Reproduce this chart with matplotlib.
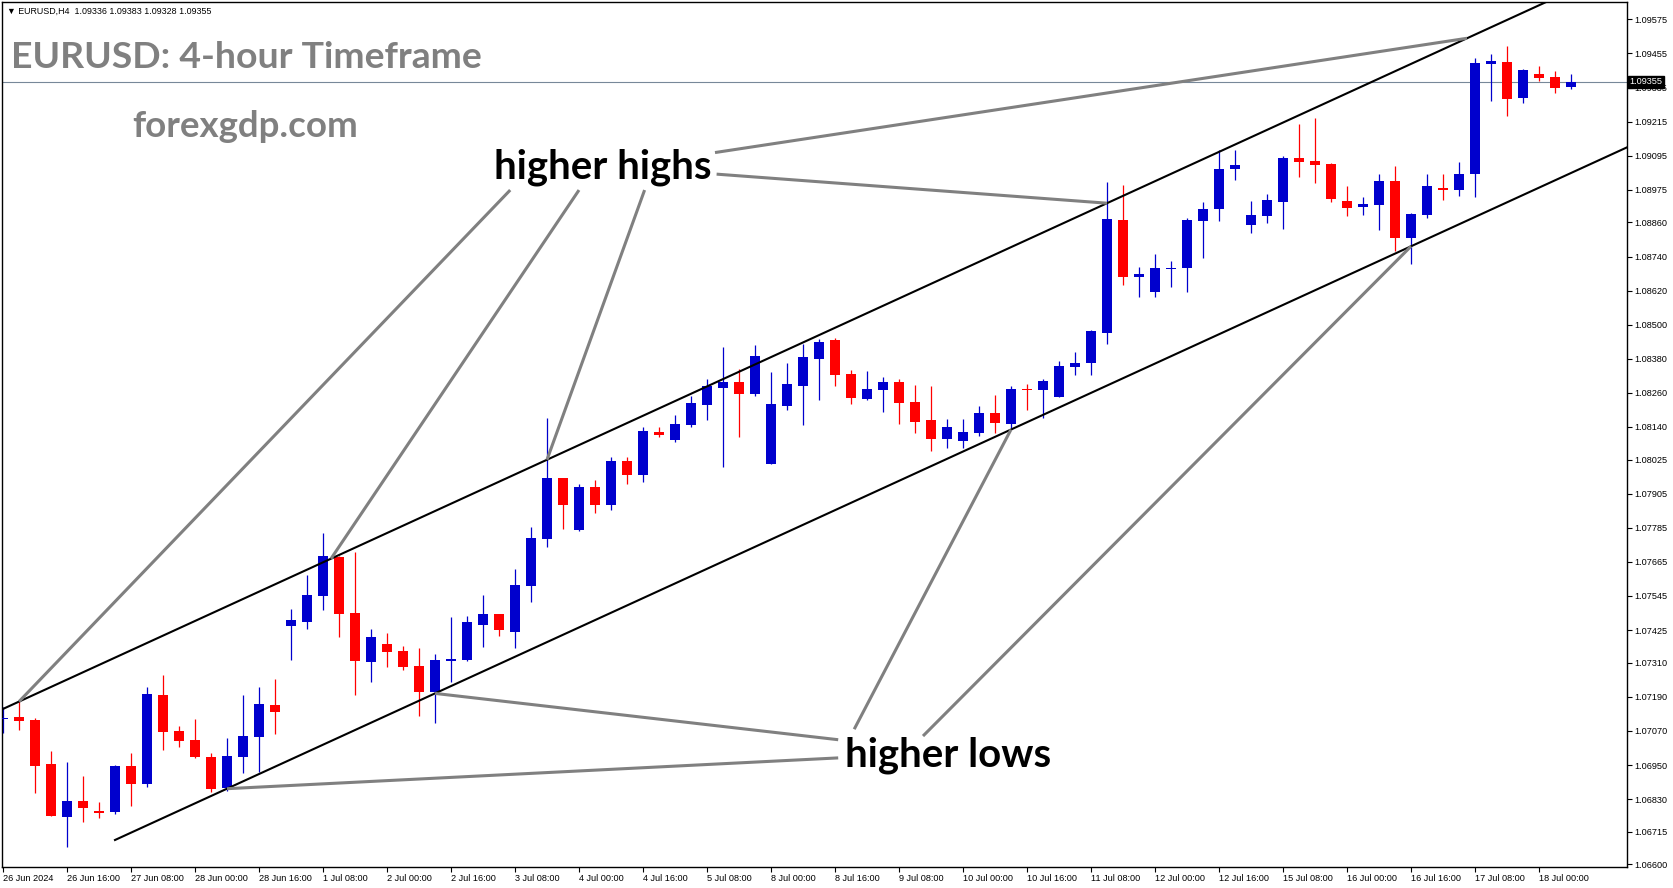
import matplotlib
matplotlib.use("Agg")
import matplotlib.pyplot as plt
import matplotlib.transforms as mtransforms
import numpy as np

# EURUSD H4 candles (bar 0 = 26 Jun 2024 00:00)
opens = [1.07112, 1.07119, 1.07108, 1.06953, 1.06768, 1.06823, 1.06788, 1.06785, 1.06946, 1.06884,
         1.07196, 1.07069, 1.07038, 1.06978, 1.06870, 1.06979, 1.07049, 1.07161, 1.07440, 1.07454,
         1.07546, 1.07682, 1.07485, 1.07313, 1.07376, 1.07351, 1.07298, 1.07208, 1.07317, 1.07319,
         1.07444, 1.07481, 1.07419, 1.07580, 1.07746, 1.07960, 1.07777, 1.07928, 1.07866, 1.08020,
         1.07972, 1.08122, 1.08094, 1.08147, 1.08217, 1.08277, 1.08298, 1.08256, 1.08010, 1.08214,
         1.08284, 1.08379, 1.08446, 1.08326, 1.08238, 1.08270, 1.08298, 1.08228, 1.08164, 1.08097,
         1.08091, 1.08120, 1.08189, 1.08151, 1.08274, 1.08271, 1.08246, 1.08352, 1.08365, 1.08472,
         1.08868, 1.08669, 1.08616, 1.08696, 1.08701, 1.08866, 1.08908, 1.09048, 1.08852, 1.08884,
         1.08933, 1.09087, 1.09076, 1.09066, 1.08935, 1.08915, 1.08921, 1.09006, 1.08806, 1.08886,
         1.08981, 1.08974, 1.09030, 1.09419, 1.09425, 1.09298, 1.09384, 1.09372, 1.09336]
highs = [1.07153, 1.07179, 1.07116, 1.06999, 1.06960, 1.06911, 1.06821, 1.06950, 1.06992, 1.07223,
         1.07267, 1.07087, 1.07112, 1.06991, 1.07045, 1.07196, 1.07223, 1.07252, 1.07499, 1.07619,
         1.07768, 1.07684, 1.07701, 1.07428, 1.07414, 1.07369, 1.07362, 1.07340, 1.07472, 1.07474,
         1.07548, 1.07481, 1.07640, 1.07788, 1.08171, 1.07960, 1.07939, 1.07953, 1.08034, 1.08034,
         1.08140, 1.08140, 1.08182, 1.08249, 1.08309, 1.08421, 1.08344, 1.08428, 1.08333, 1.08365,
         1.08432, 1.08450, 1.08453, 1.08340, 1.08337, 1.08316, 1.08309, 1.08288, 1.08284, 1.08168,
         1.08168, 1.08214, 1.08252, 1.08285, 1.08291, 1.08309, 1.08372, 1.08404, 1.08481, 1.09002,
         1.08992, 1.08703, 1.08749, 1.08724, 1.08875, 1.08932, 1.09115, 1.09115, 1.08935, 1.08960,
         1.09094, 1.09206, 1.09228, 1.09068, 1.08988, 1.08949, 1.09030, 1.09059, 1.08893, 1.09030,
         1.09030, 1.09073, 1.09439, 1.09453, 1.09481, 1.09400, 1.09411, 1.09393, 1.09383]
lows = [1.07063, 1.07073, 1.06852, 1.06770, 1.06662, 1.06750, 1.06765, 1.06777, 1.06806, 1.06873,
        1.07003, 1.07014, 1.06975, 1.06855, 1.06858, 1.06923, 1.06926, 1.07059, 1.07319, 1.07428,
        1.07495, 1.07401, 1.07196, 1.07243, 1.07296, 1.07284, 1.07123, 1.07099, 1.07243, 1.07317,
        1.07366, 1.07405, 1.07363, 1.07525, 1.07718, 1.07782, 1.07775, 1.07838, 1.07847, 1.07940,
        1.07947, 1.08106, 1.08087, 1.08140, 1.08164, 1.08000, 1.08104, 1.08249, 1.08008, 1.08200,
        1.08147, 1.08235, 1.08284, 1.08221, 1.08235, 1.08192, 1.08150, 1.08119, 1.08055, 1.08066,
        1.08067, 1.08109, 1.08120, 1.08135, 1.08200, 1.08170, 1.08244, 1.08324, 1.08324, 1.08433,
        1.08641, 1.08598, 1.08598, 1.08634, 1.08616, 1.08736, 1.08866, 1.09010, 1.08824, 1.08859,
        1.08838, 1.09021, 1.09000, 1.08933, 1.08883, 1.08887, 1.08833, 1.08759, 1.08715, 1.08877,
        1.08939, 1.08954, 1.08951, 1.09287, 1.09235, 1.09280, 1.09358, 1.09316, 1.09328]
closes = [1.07115, 1.07106, 1.06947, 1.06771, 1.06823, 1.06799, 1.06782, 1.06946, 1.06882, 1.07200,
          1.07067, 1.07035, 1.06979, 1.06866, 1.06981, 1.07052, 1.07164, 1.07137, 1.07460, 1.07548,
          1.07685, 1.07482, 1.07317, 1.07400, 1.07349, 1.07296, 1.07208, 1.07319, 1.07323, 1.07453,
          1.07481, 1.07426, 1.07583, 1.07749, 1.07960, 1.07866, 1.07928, 1.07866, 1.08020, 1.07972,
          1.08126, 1.08113, 1.08150, 1.08224, 1.08284, 1.08298, 1.08256, 1.08390, 1.08221, 1.08291,
          1.08386, 1.08439, 1.08323, 1.08242, 1.08273, 1.08298, 1.08224, 1.08157, 1.08097, 1.08140,
          1.08122, 1.08189, 1.08155, 1.08273, 1.08270, 1.08302, 1.08354, 1.08365, 1.08478, 1.08872,
          1.08669, 1.08678, 1.08699, 1.08699, 1.08868, 1.08907, 1.09048, 1.09062, 1.08886, 1.08939,
          1.09087, 1.09074, 1.09063, 1.08942, 1.08912, 1.08925, 1.09006, 1.08806, 1.08890, 1.08988,
          1.08974, 1.09030, 1.09421, 1.09428, 1.09294, 1.09397, 1.09368, 1.09333, 1.09355]

time_labels = ["26 Jun 2024", "26 Jun 16:00", "27 Jun 08:00", "28 Jun 00:00", "28 Jun 16:00",
               "1 Jul 08:00", "2 Jul 00:00", "2 Jul 16:00", "3 Jul 08:00", "4 Jul 00:00",
               "4 Jul 16:00", "5 Jul 08:00", "8 Jul 00:00", "8 Jul 16:00", "9 Jul 08:00",
               "10 Jul 00:00", "10 Jul 16:00", "11 Jul 08:00", "12 Jul 00:00", "12 Jul 16:00",
               "15 Jul 08:00", "16 Jul 00:00", "16 Jul 16:00", "17 Jul 08:00", "18 Jul 00:00"]
price_ticks = [1.09575, 1.09455, 1.09335, 1.09215, 1.09095, 1.08975, 1.08860, 1.08740, 1.08620,
               1.08500, 1.08380, 1.08260, 1.08140, 1.08025, 1.07905, 1.07785, 1.07665, 1.07545,
               1.07425, 1.07310, 1.07190, 1.07070, 1.06950, 1.06830, 1.06715, 1.06600]
last_price = 1.09355
header = "\u25bc EURUSD,H4  1.09336 1.09383 1.09328 1.09355"

# channel: lower line through two points, upper line parallel above it
lower_line = [(7, 1.06686), (88, 1.08776)]
channel_width = 0.00642

# pointer lines: bar where they hit the channel, and where they start near the text
high_touch = [1, 20.5, 34, 69, 91.5]
high_start = [(31.7, 1.08974), (36.0, 1.08974), (40.1, 1.08974), (44.6, 1.09030), (44.5, 1.09106)]
low_touch = [14, 27, 63, 88]
low_start = [(52.2, 1.06975), (52.2, 1.07039), (53.2, 1.07076), (57.5, 1.07052)]

W, H = 1673, 888
fig = plt.figure(figsize=(W / 100, H / 100), dpi=100)
ax = fig.add_axes([2 / W, (H - 866.7) / H, 1625 / W, 864.7 / H])

# candles
idx = np.arange(len(opens))
o = np.array(opens)
c = np.array(closes)
colors = np.where(c >= o, "#0000cd", "#ff0000")
ax.vlines(idx, lows, highs, colors=colors, linewidth=0.9, zorder=2)
body = np.maximum(np.abs(c - o), 0.00003)
ax.bar(idx, body, bottom=np.minimum(o, c), width=0.66, color=colors, linewidth=0, zorder=3)

# channel lines
slope = (lower_line[1][1] - lower_line[0][1]) / (lower_line[1][0] - lower_line[0][0])


def lower(x):
    return lower_line[0][1] + slope * (np.asarray(x) - lower_line[0][0])


def upper(x):
    return lower(x) + channel_width


xs = np.array([lower_line[0][0], 115])
ax.plot(xs, lower(xs), color="black", lw=1.5, zorder=4)
xs = np.array([-3, 115])
ax.plot(xs, upper(xs), color="black", lw=1.5, zorder=4)

# grey pointers
for (sx, sy), t in zip(high_start, high_touch):
    ax.plot([sx, t], [sy, upper(t)], color="#808080", lw=2.2, zorder=5, solid_capstyle="butt")
for (sx, sy), t in zip(low_start, low_touch):
    ax.plot([sx, t], [sy, lower(t)], color="#808080", lw=2.2, zorder=5, solid_capstyle="butt")

ax.text(30.7, 1.09016, "higher highs", fontsize=28.9, fontweight="bold", family="Lato",
        va="baseline", ha="left", zorder=6)
ax.text(52.6, 1.06943, "higher lows", fontsize=28.9, fontweight="bold", family="Lato",
        va="baseline", ha="left", zorder=6)

# last price line and label
ax.axhline(last_price, color="#778899", lw=0.8, zorder=1)
trans = mtransforms.blended_transform_factory(ax.transAxes, ax.transData)
ax.text(1.0015, last_price, f"{last_price:.5f}", transform=trans, color="white", fontsize=6.6,
        family="Liberation Sans", va="center", ha="left", zorder=10,
        bbox=dict(facecolor="black", edgecolor="black", pad=1.2))

ax.set_xlim(-0.0625, 101.5)
ax.set_ylim(1.06592, 1.09636)

ax.yaxis.tick_right()
ax.set_yticks(price_ticks)
ax.set_yticklabels([f"{p:.5f}" for p in price_ticks])
ax.set_xticks(range(0, 4 * len(time_labels), 4))
ax.set_xticklabels(time_labels)
for lbl in ax.get_xticklabels():
    lbl.set_ha("left")
for lbl in ax.get_xticklabels() + ax.get_yticklabels():
    lbl.set_family("Liberation Sans")
    lbl.set_fontsize(6.6)
ax.tick_params(axis="both", length=3.5, width=0.8, color="black", pad=2)
for sp in ax.spines.values():
    sp.set_color("black")
    sp.set_linewidth(1.0)

fig.text(7 / W, 1 - 13.5 / H, header, fontsize=6.4, family=["Liberation Sans", "DejaVu Sans"],
         va="baseline", ha="left")
fig.text(11 / W, 1 - 68 / H, "EURUSD: 4-hour Timeframe", fontsize=26.9, fontweight="bold",
         family="Lato", color="#808080", va="baseline", ha="left")
fig.text(132 / W, 1 - 136.7 / H, "forexgdp.com", fontsize=26.4, fontweight="bold",
         family="Lato", color="#808080", va="baseline", ha="left")

fig.savefig("out.png", dpi=100, facecolor="white")
